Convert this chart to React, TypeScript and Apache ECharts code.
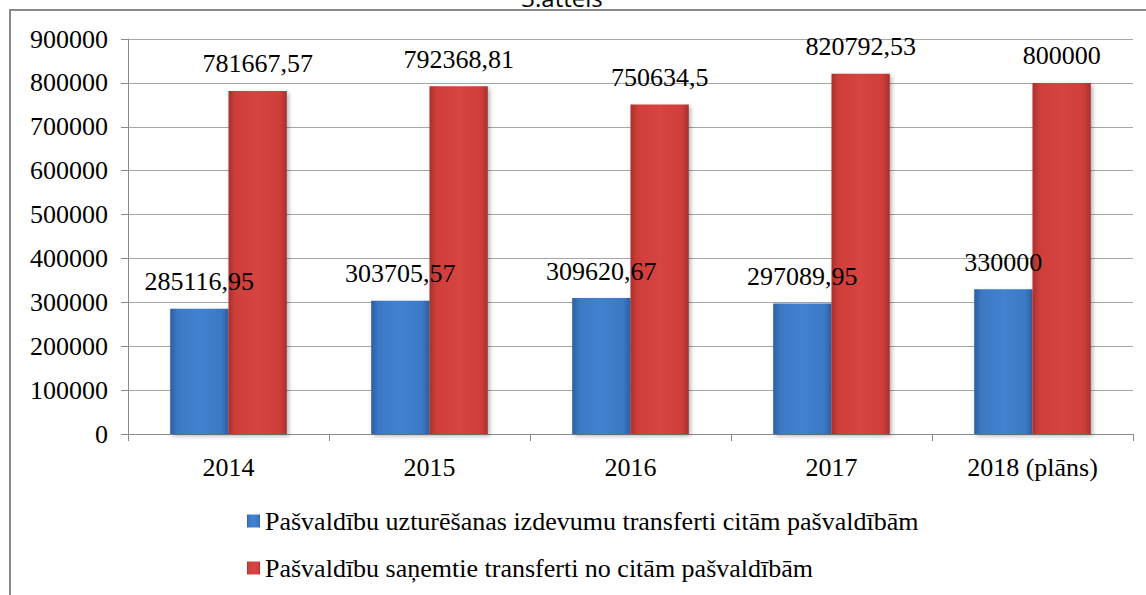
import React, { useEffect, useRef } from "react";
import * as echarts from "echarts";

const categories = ["2014", "2015", "2016", "2017", "2018 (plāns)"];
const seriesNames = [
  "Pašvaldību uzturēšanas izdevumu transferti citām pašvaldībām",
  "Pašvaldību saņemtie transferti no citām pašvaldībām",
];
const expenseTransfers = [285116.95, 303705.57, 309620.67, 297089.95, 330000];
const receivedTransfers = [781667.57, 792368.81, 750634.5, 820792.53, 800000];
const yMin = 0;
const yMax = 900000;
const yInterval = 100000;
const titleText = "3.attēls";

const FONT = "Liberation Serif";

const blueFill = new echarts.graphic.LinearGradient(0, 0, 1, 0, [
  { offset: 0, color: "#2c5f9e" },
  { offset: 0.12, color: "#3b78c4" },
  { offset: 0.5, color: "#4282d0" },
  { offset: 0.88, color: "#3b78c4" },
  { offset: 1, color: "#2c5f9e" },
]);
const redFill = new echarts.graphic.LinearGradient(0, 0, 1, 0, [
  { offset: 0, color: "#a8302d" },
  { offset: 0.12, color: "#cf3e3a" },
  { offset: 0.5, color: "#d64541" },
  { offset: 0.88, color: "#cf3e3a" },
  { offset: 1, color: "#a8302d" },
]);

const fmt = (v: number) => String(v).replace(".", ",");

export default function App() {
  const ref = useRef<HTMLDivElement>(null);
  useEffect(() => {
    if (!ref.current) return;
    const chart = echarts.init(ref.current, undefined, { renderer: "svg" });
    const labelCfg = {
      show: true,
      position: "top" as const,
      distance: 14,
      fontFamily: FONT,
      fontSize: 26,
      color: "#000",
      formatter: (p: any) => fmt(p.value),
    };
    const shadow = {
      shadowBlur: 4,
      shadowOffsetX: 2,
      shadowOffsetY: 2,
      shadowColor: "rgba(0,0,0,0.3)",
    };
    chart.setOption({
      animation: false,
      backgroundColor: "#fff",
      textStyle: { fontFamily: FONT },
      graphic: [
        {
          type: "rect",
          shape: { x: 10, y: 10, width: 1300, height: 800 },
          style: { fill: "none", stroke: "#8a8a8a", lineWidth: 2 },
          silent: true,
          z: -10,
        },
        {
          type: "text",
          x: 562,
          y: 9,
          style: {
            text: titleText,
            fontFamily: "Open Sans",
            fontSize: 24,
            fontWeight: "normal",
            fill: "#000",
            align: "center",
            verticalAlign: "bottom",
          },
          silent: true,
        },
      ],
      grid: { left: 128, right: 13, top: 39, bottom: 161, containLabel: false },
      legend: {
        orient: "vertical",
        left: 242,
        top: 503,
        itemWidth: 13,
        itemHeight: 13,
        itemGap: 21,
        icon: "rect",
        textStyle: { fontFamily: FONT, fontSize: 26, color: "#000" },
        data: seriesNames,
      },
      xAxis: {
        type: "category",
        data: categories,
        axisLine: { show: true, lineStyle: { color: "#8a8a8a", width: 1 } },
        axisTick: { show: true, length: 7, lineStyle: { color: "#8a8a8a" } },
        axisLabel: { fontFamily: FONT, fontSize: 26, color: "#000", margin: 20 },
        splitLine: { show: false },
      },
      yAxis: {
        type: "value",
        min: yMin,
        max: yMax,
        interval: yInterval,
        axisLine: { show: true, lineStyle: { color: "#8a8a8a", width: 1 } },
        axisTick: { show: true, length: 7, lineStyle: { color: "#8a8a8a" } },
        axisLabel: {
          fontFamily: FONT,
          fontSize: 26,
          color: "#000",
          margin: 20,
          formatter: (v: number) => String(v),
        },
        splitLine: { show: true, lineStyle: { color: "#a6a6a6", width: 1 } },
      },
      series: [
        {
          name: seriesNames[0],
          type: "bar",
          data: expenseTransfers,
          barGap: "0%",
          barCategoryGap: "42%",
          itemStyle: { color: blueFill, ...shadow },
          label: labelCfg,
        },
        {
          name: seriesNames[1],
          type: "bar",
          data: receivedTransfers,
          barGap: "0%",
          barCategoryGap: "42%",
          itemStyle: { color: redFill, ...shadow },
          label: labelCfg,
        },
      ],
    });
    return () => chart.dispose();
  }, []);
  return (
    <div
      ref={ref}
      style={{ position: "fixed", left: 0, top: 0, width: 1146, height: 595 }}
    />
  );
}
